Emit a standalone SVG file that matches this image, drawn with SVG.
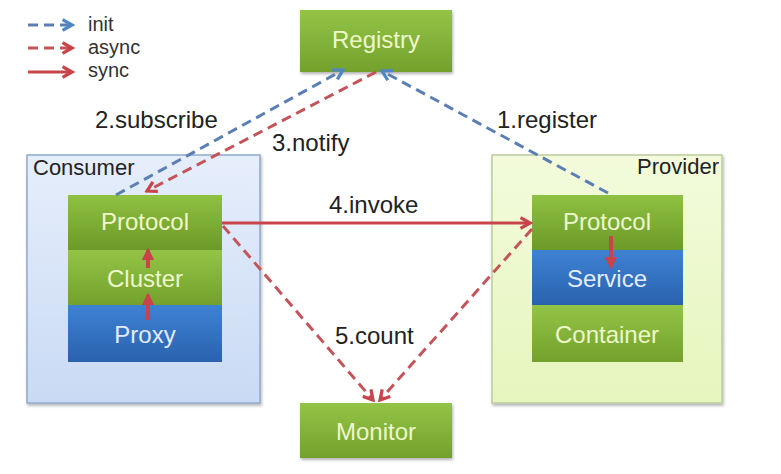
<svg xmlns="http://www.w3.org/2000/svg" width="781" height="474" viewBox="0 0 781 474">
<defs>
<linearGradient id="gGreen" x1="0" y1="0" x2="0" y2="1">
<stop offset="0" stop-color="#93c446"/><stop offset="1" stop-color="#73a12c"/>
</linearGradient>
<linearGradient id="gGreen2" x1="0" y1="0" x2="0" y2="1">
<stop offset="0" stop-color="#8fc142"/><stop offset="1" stop-color="#6b9a28"/>
</linearGradient>
<linearGradient id="gBlue" x1="0" y1="0" x2="0" y2="1">
<stop offset="0" stop-color="#3e82d4"/><stop offset="1" stop-color="#2a62ae"/>
</linearGradient>
<linearGradient id="gCons" x1="0" y1="0" x2="0" y2="1">
<stop offset="0" stop-color="#e6eefb"/><stop offset="1" stop-color="#c9daf4"/>
</linearGradient>
<linearGradient id="gProv" x1="0" y1="0" x2="0" y2="1">
<stop offset="0" stop-color="#f3fbdc"/><stop offset="1" stop-color="#e6f5bd"/>
</linearGradient>
<filter id="sh" x="-10%" y="-10%" width="125%" height="130%">
<feDropShadow dx="1" dy="2" stdDeviation="1.5" flood-color="#000" flood-opacity="0.3"/>
</filter>
<marker id="mBlue" viewBox="0 0 10 10" refX="8" refY="5" markerWidth="4.5" markerHeight="4.5" orient="auto" markerUnits="strokeWidth">
<path d="M1,1 L8,5 L1,9" fill="none" stroke="#4f86c6" stroke-width="2.4"/>
</marker>
<marker id="mRed" viewBox="0 0 10 10" refX="8" refY="5" markerWidth="4.5" markerHeight="4.5" orient="auto" markerUnits="strokeWidth">
<path d="M1,1 L8,5 L1,9" fill="none" stroke="#c9444a" stroke-width="2.4"/>
</marker>
<marker id="mRedFill" viewBox="0 0 10 10" refX="8" refY="5" markerWidth="3.2" markerHeight="3.2" orient="auto" markerUnits="strokeWidth">
<path d="M0,0 L10,5 L0,10 z" fill="#c9444a"/>
</marker>
</defs>
<style>
.t{font-family:"Liberation Sans",Arial,sans-serif;}
.lg{font-size:20px;fill:#333;}
.lbl{font-size:24px;fill:#222;}
.cap{font-size:22px;fill:#222;}
.bt{font-size:24px;fill:#eef8cc;text-anchor:middle;}
.btb{font-size:24px;fill:#e2ecfa;text-anchor:middle;}
.init{fill:none;stroke:#5b7fb3;stroke-width:3;stroke-dasharray:10 6;}
.async{fill:none;stroke:#c4545a;stroke-width:3;stroke-dasharray:10 6;}
.sync{fill:none;stroke:#c9444a;stroke-width:3;}
.sync4{fill:none;stroke:#c9444a;stroke-width:4;}
</style>
<rect width="781" height="474" fill="#fff"/>

<g id="legend">
<path class="init" d="M28,25 H72" marker-end="url(#mBlue)"/>
<path class="async" d="M28,48 H72" marker-end="url(#mRed)"/>
<path class="sync" d="M28,72 H72" marker-end="url(#mRed)"/>
<text class="t lg" x="88" y="31">init</text>
<text class="t lg" x="88" y="54">async</text>
<text class="t lg" x="88" y="77">sync</text>
</g>

<g id="consumer">
<rect x="27" y="155" width="233" height="248" fill="url(#gCons)" stroke="#8fa9cc" stroke-width="1.5" filter="url(#sh)"/>
<text class="t cap" x="33" y="175">Consumer</text>
</g>
<g id="provider">
<rect x="492" y="155" width="230" height="248" fill="url(#gProv)" stroke="#bccca0" stroke-width="1.5" filter="url(#sh)"/>
<text class="t cap" x="719" y="174" text-anchor="end">Provider</text>
</g>

<g id="registry">
<rect x="300" y="10" width="152" height="62" fill="url(#gGreen)" filter="url(#sh)"/>
<text class="t bt" x="376" y="48">Registry</text>
</g>
<g id="monitor">
<rect x="300" y="403" width="152" height="55" fill="url(#gGreen)" filter="url(#sh)"/>
<text class="t bt" x="376" y="440">Monitor</text>
</g>

<g id="consumer-protocol">
<rect x="68" y="195" width="154" height="55" fill="url(#gGreen2)"/>
<text class="t bt" x="145" y="230">Protocol</text>
</g>
<g id="consumer-cluster">
<rect x="68" y="250" width="154" height="55" fill="url(#gGreen)"/>
<text class="t bt" x="145" y="287">Cluster</text>
</g>
<g id="consumer-proxy">
<rect x="68" y="305" width="154" height="57" fill="url(#gBlue)"/>
<text class="t btb" x="145" y="343">Proxy</text>
</g>

<g id="provider-protocol">
<rect x="532" y="195" width="151" height="55" fill="url(#gGreen2)"/>
<text class="t bt" x="607" y="230">Protocol</text>
</g>
<g id="provider-service">
<rect x="532" y="250" width="151" height="55" fill="url(#gBlue)"/>
<text class="t btb" x="607" y="287">Service</text>
</g>
<g id="provider-container">
<rect x="532" y="305" width="151" height="57" fill="url(#gGreen)"/>
<text class="t bt" x="607" y="343">Container</text>
</g>

<g id="connectors">
<path class="sync4" d="M148,268 V250" marker-end="url(#mRedFill)"/>
<path class="sync4" d="M148,320 V295" marker-end="url(#mRedFill)"/>
<path class="sync4" d="M611,236 V267" marker-end="url(#mRedFill)"/>
<path class="init" d="M116,195 L343,70" marker-end="url(#mBlue)"/>
<path class="async" d="M376,72 L147,191" marker-end="url(#mRed)"/>
<path class="init" d="M608,193 L382,71" marker-end="url(#mBlue)"/>
<path class="sync" d="M222,223 H530" marker-end="url(#mRed)"/>
<path class="async" d="M223,226 L373,400" marker-end="url(#mRed)"/>
<path class="async" d="M532,229 L380,400" marker-end="url(#mRed)"/>
<text class="t lbl" x="95" y="128">2.subscribe</text>
<text class="t lbl" x="272" y="151">3.notify</text>
<text class="t lbl" x="497" y="128">1.register</text>
<text class="t lbl" x="329" y="213">4.invoke</text>
<text class="t lbl" x="335" y="344">5.count</text>
</g>
</svg>
